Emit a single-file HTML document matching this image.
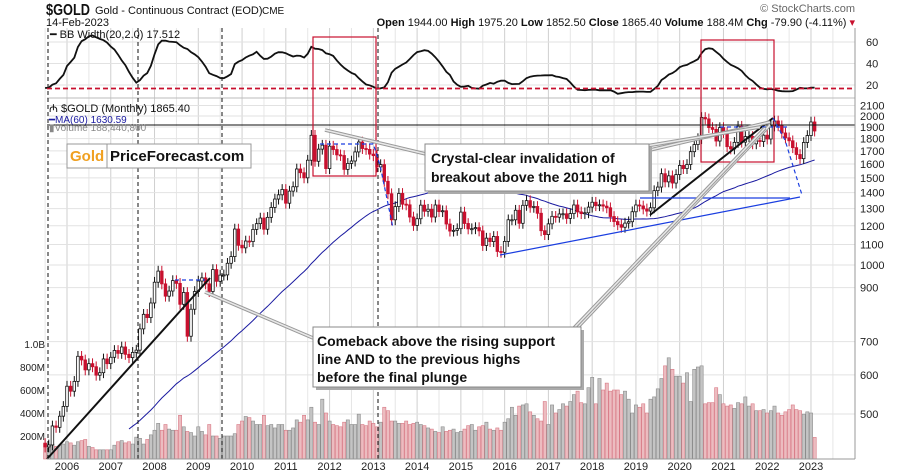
<!DOCTYPE html>
<html><head><meta charset="utf-8"><style>
body{margin:0;background:#fff;}
svg{display:block;font-family:"Liberation Sans",sans-serif;}
</style></head><body>
<svg id="c" width="900" height="475" viewBox="0 0 900 475">
<g id="grid"></g>
<g id="bb"></g>
<g id="vol"></g>
<g id="price"></g>
<g id="ann"></g>
<g id="axes"></g>
</svg>
<script>
// ---- data: monthly closes Jul 2002 - Jun 2005 (history for MA/BB) ----
const histCloses=[304,312,324,317,319,347,
368,347,334,336,361,346,354,375,388,384,398,416,
403,396,427,388,393,395,391,409,415,428,452,438,
422,434,428,435,415,436];
// ---- monthly closes Jul 2005 - Feb 2023 ----
const closes=[429,433,473,470,495,518,
569,556,582,654,643,614,632,623,599,606,646,632,
651,672,663,683,660,650,666,673,743,795,783,838,
923,972,916,865,886,930,918,833,880,718,814,884,
928,942,916,884,979,927,954,955,1008,1040,1182,1096,
1083,1118,1115,1180,1212,1244,1181,1248,1307,1359,1386,1421,
1333,1410,1439,1563,1536,1500,1628,1828,1620,1714,1746,1566,
1738,1711,1669,1664,1560,1604,1622,1692,1772,1719,1712,1675,
1663,1578,1595,1476,1393,1234,1312,1395,1327,1323,1250,1202,
1240,1321,1284,1296,1250,1322,1282,1287,1210,1171,1175,1184,
1279,1213,1183,1184,1190,1172,1095,1133,1115,1142,1065,1061,
1116,1234,1234,1290,1214,1320,1349,1308,1313,1272,1173,1152,
1211,1254,1249,1268,1269,1242,1270,1322,1280,1270,1275,1309,
1339,1318,1323,1315,1305,1253,1224,1206,1192,1215,1223,1281,
1322,1316,1298,1285,1305,1413,1437,1529,1472,1514,1464,1523,
1589,1566,1596,1694,1751,1800,1986,1973,1895,1879,1780,1895,
1850,1734,1716,1769,1907,1771,1817,1818,1757,1784,1776,1829,
1797,1909,1954,1911,1848,1807,1782,1726,1672,1640,1768,1826,
1945,1865];
// ---- monthly volume (millions) ----
const volumes=[140,120,130,110,120,130,
150,140,120,150,160,170,110,100,80,80,80,80,
80,120,150,160,140,150,130,190,180,130,170,210,
250,310,250,300,260,250,250,380,280,240,230,200,
280,240,210,300,200,200,180,200,200,200,220,300,
330,370,360,330,300,300,380,290,300,270,300,300,
250,250,270,340,320,380,340,450,320,300,520,400,
330,300,290,280,320,340,300,300,390,300,290,330,
310,280,320,450,420,330,330,310,310,330,300,310,
320,300,290,270,260,240,230,280,240,250,260,230,
240,260,290,300,250,280,290,320,260,250,270,250,
320,350,450,380,460,470,480,410,380,350,330,500,
300,470,400,430,480,460,500,560,590,490,480,620,
710,480,700,600,660,590,600,600,560,590,520,400,
470,450,480,400,520,540,610,700,810,880,780,720,
720,660,750,500,780,800,810,480,490,490,620,560,
480,460,470,440,490,480,540,460,480,420,420,430,
400,420,460,400,380,410,430,470,430,420,390,410,
400,188];
const years=[2006,2007,2008,2009,2010,2011,2012,2013,2014,2015,2016,2017,2018,2019,2020,2021,2022,2023];
const priceTicks=[2100,2000,1900,1800,1700,1600,1500,1400,1300,1200,1100,1000,900,700,600,500];
const bbTicks=[60,40,20];
const volTicks=[200,400,600,800,1000];
const volTickLabels=["200M","400M","600M","800M","1.0B"];

const NS="http://www.w3.org/2000/svg";
function el(tag,attrs,parent,name){const e=document.createElementNS(NS,tag);for(const k in attrs)e.setAttribute(k,attrs[k]);


parent.appendChild(e);return e;}
const L=47,R=855,PT=98,PB=459;
const xOf=i=>67+(i-6)*3.647;
const yP=p=>265-215*Math.log(p/1000);
const yV=v=>PB-v*0.115;
const yB=b=>106.5-1.075*b;
const G=document.getElementById('grid'),BB=document.getElementById('bb'),V=document.getElementById('vol'),P=document.getElementById('price'),A=document.getElementById('ann'),AX=document.getElementById('axes');

el('rect',{x:L,y:28,width:R-L,height:PB-28,fill:'#fff',stroke:'none'},G,'plot-background');
years.forEach((y,k)=>{const x=xOf(6+k*12);
 el('line',{x1:x+21.9,x2:x+21.9,y1:28,y2:PB,stroke:'#e6e6e6'},G,'half-year-gridline');
 if(x>L) el('line',{x1:x,x2:x,y1:28,y2:PB,stroke:'#cfcfcf'},G,'year-gridline');
});
el('line',{x1:xOf(0)+0,x2:xOf(0),y1:28,y2:PB,stroke:'#e6e6e6'},G,'half-year-gridline');
priceTicks.forEach(p=>el('line',{x1:L,x2:R,y1:yP(p),y2:yP(p),stroke:'#e2e2e2'},G,'price-gridline'));
bbTicks.forEach(b=>el('line',{x1:L,x2:R,y1:yB(b),y2:yB(b),stroke:'#e2e2e2'},G,'bb-gridline'));
el('line',{x1:L,x2:R,y1:98,y2:98,stroke:'#bbb'},G,'panel-separator');

const all=histCloses.concat(closes),off=histCloses.length;
let pts=[];
closes.forEach((c,i)=>{const j=i+off;if(j<19)return;const w=all.slice(j-19,j+1);const m=w.reduce((a,b)=>a+b,0)/20;
 const sd=Math.sqrt(w.reduce((a,b)=>a+(b-m)*(b-m),0)/20);const bw=4*sd/m*100;pts.push(xOf(i).toFixed(1)+','+Math.max(30,yB(bw)).toFixed(1));});
el('polyline',{points:pts.join(' '),fill:'none',stroke:'#111','stroke-width':1.8},BB,'bb-width-line');
el('line',{x1:L,x2:R,y1:88.5,y2:88.5,stroke:'#c8102e','stroke-width':1.8,'stroke-dasharray':'5,3'},BB,'bb-threshold-line');

closes.forEach((c,i)=>{const prev=all[i+off-1];const dn=c<prev;const x=xOf(i);
 el('rect',{x:x-1.6,y:yV(volumes[i]),width:3.2,height:PB-yV(volumes[i]),fill:dn?'#ecbcc0':'#c4c4c4',stroke:dn?'#d87a86':'#8c8c8c','stroke-width':0.6},V,'volume-bar');});

pts=[];
closes.forEach((c,i)=>{const j=i+off;if(j<59)return;const w=all.slice(j-59,j+1);const m=w.reduce((a,b)=>a+b,0)/60;const y=yP(m);if(y<PB+5)pts.push(xOf(i).toFixed(1)+','+Math.min(PB,y).toFixed(1));});
el('polyline',{points:pts.join(' '),fill:'none',stroke:'#1a1aa0','stroke-width':1},P,'ma60-line');

closes.forEach((c,i)=>{const o=all[i+off-1];const dn=c<o;const x=xOf(i);const hi=Math.max(o,c)*1.025,lo=Math.min(o,c)*0.975;
 const col=dn?'#c8102e':'#111';
 el('line',{x1:x,x2:x,y1:yP(hi),y2:Math.min(PB,yP(lo)),stroke:col,'stroke-width':1},P,'candle-wick');
 const yt=yP(Math.max(o,c)),yb=yP(Math.min(o,c));
 el('rect',{x:x-1.3,y:yt,width:2.6,height:Math.max(1,yb-yt),fill:dn?'#c8102e':'#fff',stroke:col,'stroke-width':0.8},P,'candle-body');});

const an=(t,a,n)=>el(t,a,A,n);
an('line',{x1:L,x2:R,y1:125,y2:125,stroke:'#111','stroke-width':1},0,'resistance-line');
[48,138,222,378].forEach(x=>an('line',{x1:x,x2:x,y1:28,y2:PB,stroke:'#111','stroke-width':1,'stroke-dasharray':'4,3'},0,'dashed-vertical'));
an('rect',{x:313,y:37,width:63,height:139,fill:'none',stroke:'#c8102e','stroke-width':1.2},0,'highlight-box-2011');
an('rect',{x:701,y:40,width:73,height:122,fill:'none',stroke:'#c8102e','stroke-width':1.2},0,'highlight-box-2020');
an('line',{x1:47,y1:459,x2:210,y2:278,stroke:'#111','stroke-width':2},0,'support-line-2006');
an('line',{x1:650,y1:215,x2:773,y2:118,stroke:'#111','stroke-width':2},0,'support-line-2019');
an('line',{x1:500,y1:255,x2:800,y2:197,stroke:'#1a3ee0','stroke-width':1.2},0,'blue-rising-line');
an('line',{x1:640,y1:198,x2:790,y2:198,stroke:'#1a3ee0','stroke-width':1.2},0,'blue-horizontal');
an('polyline',{points:'773,118 785,140 802,195',fill:'none',stroke:'#1a3ee0','stroke-width':1.2,'stroke-dasharray':'4,3'},0,'blue-dashed-projection');
an('polyline',{points:'372,140 380,165 393,228',fill:'none',stroke:'#1a3ee0','stroke-width':1.2,'stroke-dasharray':'4,3'},0,'blue-dashed-2013');
an('line',{x1:320,x2:376,y1:144,y2:144,stroke:'#1a3ee0','stroke-width':1.2,'stroke-dasharray':'4,3'},0,'blue-dashed-2011-high');
an('line',{x1:175,x2:205,y1:280,y2:280,stroke:'#1a3ee0','stroke-width':1.2,'stroke-dasharray':'4,3'},0,'blue-dashed-2008-high');
an('line',{x1:720,x2:790,y1:127,y2:127,stroke:'#1a3ee0','stroke-width':1.2,'stroke-dasharray':'4,3'},0,'blue-dashed-2020-high');
[[ [430,155],[325,130] ],[ [650,150],[770,122] ],[ [640,147],[760,127] ],[ [313,338],[205,292] ],[ [578,327],[770,125] ],[ [572,330],[765,128] ]].forEach(s=>{
 an('line',{x1:s[0][0],y1:s[0][1],x2:s[1][0],y2:s[1][1],stroke:'#999','stroke-width':3.5},0,'callout-pointer');
 an('line',{x1:s[0][0],y1:s[0][1],x2:s[1][0],y2:s[1][1],stroke:'#e8e8e8','stroke-width':1.5},0,'callout-pointer-inner');});
an('rect',{x:428,y:147,width:224,height:47,fill:'#aaa'},0,'callout-shadow');
an('rect',{x:425,y:144,width:224,height:47,fill:'#fff',stroke:'#888'},0,'callout-box-invalidation');
let t=an('text',{x:431,y:163,'font-size':14,'font-weight':'bold',fill:'#111'},0,'callout-text');t.textContent='Crystal-clear invalidation of';
t=an('text',{x:431,y:182,'font-size':14,'font-weight':'bold',fill:'#111'},0,'callout-text');t.textContent='breakout above the 2011 high';
an('rect',{x:316,y:330,width:268,height:60,fill:'#aaa'},0,'callout-shadow');
an('rect',{x:313,y:327,width:268,height:60,fill:'#fff',stroke:'#888'},0,'callout-box-comeback');
['Comeback above the rising support','line AND to the previous highs','before the final plunge'].forEach((s,k)=>{t=an('text',{x:317,y:346+k*18,'font-size':14,'font-weight':'bold',fill:'#111'},0,'callout-text');t.textContent=s;});
an('rect',{x:67,y:144,width:184,height:24,fill:'#fff',stroke:'#999'},0,'logo-box');
an('line',{x1:107,x2:107,y1:144,y2:168,stroke:'#999'},0,'logo-divider');
t=an('text',{x:70,y:161,'font-size':15,'font-weight':'bold',fill:'#f0a020'},0,'logo-gold');t.textContent='Gold';
t=an('text',{x:110,y:161,'font-size':15,'font-weight':'bold',fill:'#111'},0,'logo-priceforecast');t.textContent='PriceForecast.com';

el('line',{x1:R,x2:R,y1:28,y2:PB,stroke:'#999'},AX,'right-axis-line');
el('line',{x1:L,x2:R,y1:PB,y2:PB,stroke:'#999'},AX,'x-axis-line');
priceTicks.forEach(p=>{const e=el('text',{x:860,y:yP(p)+4,'font-size':11,fill:'#222'},AX,'price-tick-label');e.textContent=p;});
bbTicks.forEach(b=>{const e=el('text',{x:866,y:yB(b)+4,'font-size':11,fill:'#222'},AX,'bb-tick-label');e.textContent=b;});
volTicks.forEach((v,k)=>{const e=el('text',{x:45,y:yV(v)+4,'font-size':10,fill:'#222','text-anchor':'end'},AX,'volume-tick-label');e.textContent=volTickLabels[k];});
years.forEach((y,k)=>{const e=el('text',{x:xOf(6+k*12),y:470,'font-size':11,fill:'#222','text-anchor':'middle'},AX,'year-label');e.textContent=y;});
const H=(x,y,s,sz,w,c,n,anc)=>{const e=el('text',{x:x,y:y,'font-size':sz,'font-weight':w,fill:c,'text-anchor':anc||'start'},AX,n);e.textContent=s;return e;};
const sym=H(46,15,'$GOLD',16,'bold','#111','symbol-title');
sym.setAttribute('textLength','44');sym.setAttribute('lengthAdjust','spacingAndGlyphs');
H(95,14,'Gold - Continuous Contract (EOD)',11,'normal','#111','instrument-name');
H(262,14,'CME',10,'normal','#111','exchange');
H(46,26,'14-Feb-2023',11,'normal','#111','date-label');
H(855,12,'© StockCharts.com',11,'normal','#666','watermark','end');
const q=el('text',{x:855,y:26,'font-size':11,fill:'#111','text-anchor':'end'},AX,'ohlc-summary');
q.innerHTML='<tspan font-weight="bold">Open</tspan> 1944.00 <tspan font-weight="bold">High</tspan> 1975.20 <tspan font-weight="bold">Low</tspan> 1852.50 <tspan font-weight="bold">Close</tspan> 1865.40 <tspan font-weight="bold">Volume</tspan> 188.4M <tspan font-weight="bold">Chg</tspan> -79.90 (-4.11%) <tspan fill="#c8102e">▾</tspan>';
H(50,38,'━ BB Width(20,2.0) 17.512',11,'normal','#111','bb-legend');
H(49,112,'₼ $GOLD (Monthly) 1865.40',11,'normal','#111','price-legend');
H(49,123,'━MA(60) 1630.59',10,'normal','#1a1aa0','ma-legend');
H(49,131,'▮Volume 188,440,800',10,'normal','#888','volume-legend');
</script>
</body></html>
